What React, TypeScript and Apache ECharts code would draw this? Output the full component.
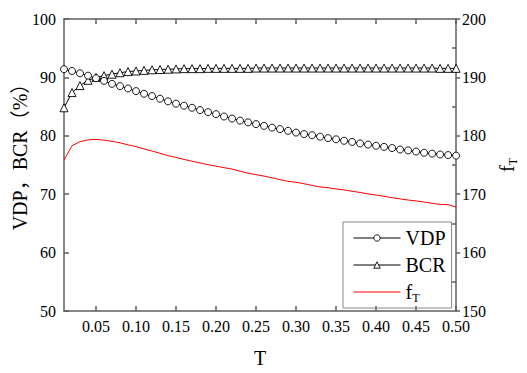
import React, { useEffect, useRef } from "react";
import * as echarts from "echarts";

const T = [
  0.01, 0.02, 0.03, 0.04, 0.05, 0.06, 0.07, 0.08, 0.09, 0.10,
  0.11, 0.12, 0.13, 0.14, 0.15, 0.16, 0.17, 0.18, 0.19, 0.20,
  0.21, 0.22, 0.23, 0.24, 0.25, 0.26, 0.27, 0.28, 0.29, 0.30,
  0.31, 0.32, 0.33, 0.34, 0.35, 0.36, 0.37, 0.38, 0.39, 0.40,
  0.41, 0.42, 0.43, 0.44, 0.45, 0.46, 0.47, 0.48, 0.49, 0.50,
];

const VDP = [
  91.4, 91.1, 90.7, 90.3, 89.85, 89.4, 88.9, 88.5, 88.1, 87.65,
  87.2, 86.8, 86.35, 85.9, 85.5, 85.15, 84.8, 84.4, 84.05, 83.7,
  83.3, 82.95, 82.6, 82.3, 82.0, 81.7, 81.4, 81.15, 80.85, 80.55,
  80.3, 80.1, 79.85, 79.6, 79.4, 79.15, 78.95, 78.7, 78.5, 78.3,
  78.1, 77.9, 77.65, 77.5, 77.3, 77.1, 76.95, 76.8, 76.7, 76.6,
];

const BCR = [
  84.8, 87.4, 88.6, 89.5, 90.0, 90.3, 90.55, 90.8, 91.0, 91.1,
  91.2, 91.3, 91.35, 91.4, 91.45, 91.5, 91.5, 91.5, 91.55, 91.55,
  91.55, 91.55, 91.55, 91.55, 91.6, 91.6, 91.6, 91.6, 91.6, 91.6,
  91.6, 91.6, 91.6, 91.6, 91.6, 91.6, 91.6, 91.6, 91.6, 91.6,
  91.6, 91.6, 91.6, 91.6, 91.6, 91.6, 91.6, 91.55, 91.55, 91.55,
];

const FT = [
  175.85, 178.3, 179.0, 179.3, 179.38, 179.25, 179.05, 178.8, 178.45, 178.15,
  177.75, 177.4, 177.0, 176.6, 176.3, 175.95, 175.65, 175.35, 175.05, 174.8,
  174.55, 174.3, 173.95, 173.6, 173.35, 173.1, 172.8, 172.5, 172.2, 172.05,
  171.8, 171.5, 171.25, 171.1, 170.9, 170.75, 170.5, 170.3, 170.05, 169.85,
  169.65, 169.4, 169.2, 169.0, 168.85, 168.65, 168.45, 168.25, 168.2, 167.8,
];

const X_TICKS = [0.05, 0.10, 0.15, 0.20, 0.25, 0.30, 0.35, 0.40, 0.45, 0.50];

const SERIF = "Liberation Serif, Times New Roman, serif";
const AXIS_COLOR = "#5f5f5f";

export default function App() {
  const ref = useRef<HTMLDivElement>(null);

  useEffect(() => {
    document.body.style.margin = "0";
    if (!ref.current) return;
    const chart = echarts.init(ref.current, null, { renderer: "svg" });

    const axisLine = { show: true, lineStyle: { color: AXIS_COLOR, width: 1.5 } };
    const labelStyle = { fontFamily: SERIF, fontSize: 16, color: "#000" };
    const subRich = {
      f: { fontFamily: SERIF, fontSize: 20, color: "#000" },
      t: { fontFamily: SERIF, fontSize: 12, color: "#000", verticalAlign: "bottom", padding: [0, 0, -2, 0] },
    };
    const hollow = { color: "#fff", borderColor: "#000", borderWidth: 0.9 };

    chart.setOption({
      animation: false,
      backgroundColor: "#fff",
      textStyle: { fontFamily: SERIF },
      grid: { left: 64, right: 59.5, top: 19, bottom: 55.5 },
      xAxis: [
        {
          type: "value",
          position: "bottom",
          min: 0.01,
          max: 0.5,
          name: "T",
          nameLocation: "middle",
          nameGap: 37,
          nameTextStyle: { fontFamily: SERIF, fontSize: 20, color: "#000" },
          axisLine,
          axisTick: { show: true, inside: true, length: 5, customValues: X_TICKS, lineStyle: { color: AXIS_COLOR, width: 1.5 } },
          axisLabel: { ...labelStyle, margin: 7, customValues: X_TICKS, formatter: (v: number) => v.toFixed(2) },
          splitLine: { show: false },
        },
        {
          type: "value",
          position: "top",
          min: 0.01,
          max: 0.5,
          axisLine,
          axisTick: { show: true, inside: true, length: 5, customValues: X_TICKS, lineStyle: { color: AXIS_COLOR, width: 1.5 } },
          axisLabel: { show: false },
          splitLine: { show: false },
        },
      ],
      yAxis: [
        {
          type: "value",
          position: "left",
          min: 50,
          max: 100,
          interval: 10,
          axisLine,
          axisTick: { show: true, inside: true, length: 5, lineStyle: { color: AXIS_COLOR, width: 1.5 } },
          axisLabel: { ...labelStyle, margin: 8 },
          splitLine: { show: false },
        },
        {
          type: "value",
          position: "right",
          min: 150,
          max: 200,
          interval: 10,
          name: "{f|f}{t|T}",
          nameLocation: "middle",
          nameRotate: 90,
          nameGap: 40,
          nameTextStyle: { rich: subRich },
          axisLine,
          axisTick: { show: true, inside: false, length: 4, lineStyle: { color: AXIS_COLOR, width: 1.5 } },
          minorTick: { show: true, splitNumber: 2, length: -4, lineStyle: { color: AXIS_COLOR, width: 1.5 } },
          axisLabel: { ...labelStyle, margin: 6 },
          splitLine: { show: false },
        },
      ],
      legend: {
        orient: "vertical",
        left: 343,
        top: 222,
        data: [
          { name: "VDP", itemStyle: hollow, lineStyle: { width: 1 } },
          { name: "BCR", itemStyle: hollow, lineStyle: { width: 1 } },
          { name: "fT", itemStyle: { opacity: 0 }, lineStyle: { width: 1 } },
        ],
        itemWidth: 47,
        itemHeight: 8,
        itemGap: 7,
        padding: [6, 6, 4, 10],
        borderColor: "#888",
        borderWidth: 1,
        textStyle: { fontFamily: SERIF, fontSize: 20, color: "#000", rich: subRich },
        formatter: (name: string) => (name === "fT" ? "{f|f}{t|T}" : name),
      },
      graphic: [
        {
          type: "text",
          x: 20,
          y: 152,
          rotation: Math.PI / 2,
          style: {
            text: "VDP，BCR（%）",
            fontFamily: "Liberation Serif, Noto Sans CJK SC",
            fontSize: 20,
            fill: "#000",
            textAlign: "center",
            textVerticalAlign: "middle",
          },
        },
      ],
      series: [
        {
          name: "BCR",
          type: "line",
          xAxisIndex: 0,
          yAxisIndex: 0,
          data: T.map((t, i) => [t, BCR[i]]),
          symbol: "triangle",
          symbolSize: 8,
          showAllSymbol: true,
          lineStyle: { color: "#000", width: 1 },
          itemStyle: hollow,
        },
        {
          name: "VDP",
          type: "line",
          xAxisIndex: 0,
          yAxisIndex: 0,
          data: T.map((t, i) => [t, VDP[i]]),
          symbol: "circle",
          symbolSize: 7,
          showAllSymbol: true,
          lineStyle: { color: "#000", width: 1 },
          itemStyle: hollow,
        },
        {
          name: "fT",
          type: "line",
          xAxisIndex: 0,
          yAxisIndex: 1,
          data: T.map((t, i) => [t, FT[i]]),
          symbol: "none",
          lineStyle: { color: "#ff0000", width: 1 },
          itemStyle: { color: "#ff0000" },
        },
      ],
    });

    return () => chart.dispose();
  }, []);

  return <div ref={ref} style={{ width: 527, height: 373 }} />;
}
